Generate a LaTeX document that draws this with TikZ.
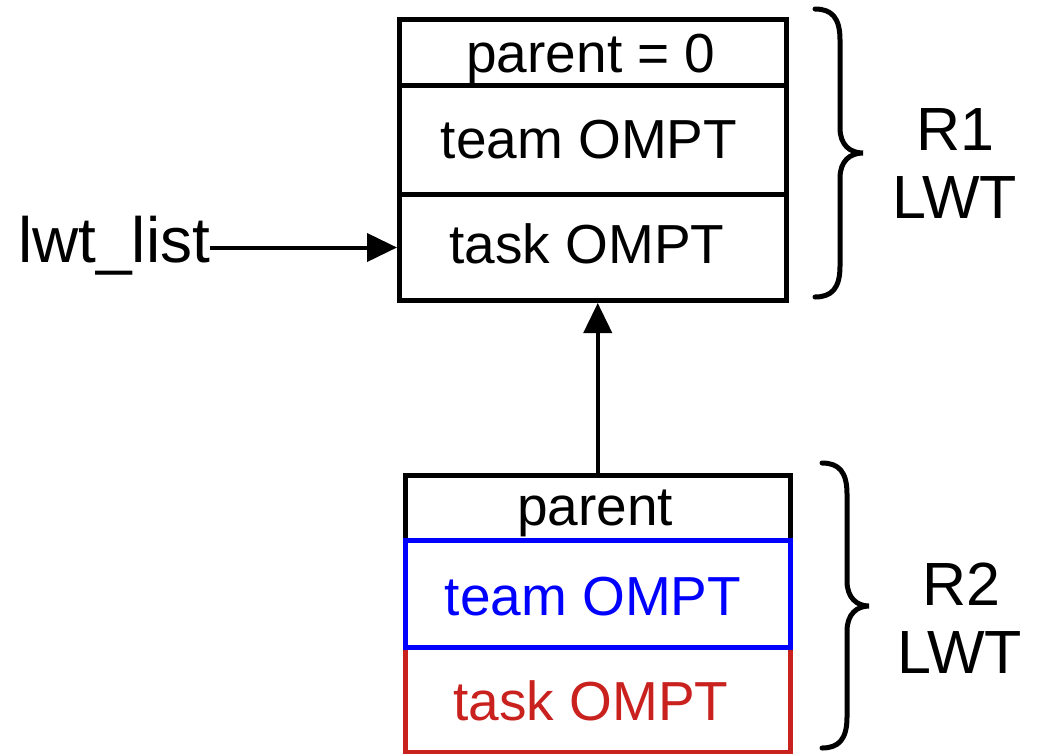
\documentclass[tikz,border=0pt]{standalone}
\usepackage{fontspec}
\setmainfont{Liberation Sans}
\usetikzlibrary{arrows.meta}
\definecolor{tred}{RGB}{201,33,30}
\definecolor{tblue}{RGB}{0,0,255}
\tikzset{
  cell/.style={draw, line width=5pt, rectangle, inner sep=0pt, anchor=north west},
  lbl/.style={anchor=base, inner sep=0pt, font=\fontsize{55}{63}\selectfont},
  big/.style={anchor=base, inner sep=0pt, font=\fontsize{61}{68}\selectfont},
  conn/.style={line width=4pt, -{Triangle[length=30pt,width=28pt]}},
  brace/.style={line width=5pt, line cap=round}
}
\begin{document}
\begin{tikzpicture}[x=1pt,y=-1pt]
\useasboundingbox (0,0) rectangle (1040,753);
% top LWT
\node[cell, minimum width=387pt, minimum height=66pt] (t1) at (397,17) {};
\node[cell, minimum width=387pt, minimum height=109pt] (t2) at (397,83) {};
\node[cell, minimum width=387pt, minimum height=106pt] (t3) at (397,192) {};
\node[lbl] (t1l) at (591,72) {parent = 0};
\node[lbl] (t2l) at (589,158) {team OMPT};
\node[lbl] (t3l) at (587,263) {task OMPT};
% bottom LWT
\node[cell, draw=tred, line width=4.5pt, minimum width=385pt, minimum height=105pt] (b3) at (403,645) {};
\node[cell, line width=4.5pt, minimum width=385pt, minimum height=65pt] (b1) at (403,473) {};
\node[cell, draw=tblue, line width=4.5pt, minimum width=385pt, minimum height=107pt] (b2) at (403,538) {};
\node[lbl] (b1l) at (595,525) {parent};
\node[lbl, text=tblue] (b2l) at (593,615) {team OMPT};
\node[lbl, text=tred] (b3l) at (591,720) {task OMPT};
% lwt_list
\node[big, anchor=base west, font=\fontsize{64}{70}\selectfont] (lst) at (18,262) {lwt\_list};
\draw[conn] (lst.east |- t3.west) -- (t3.west);
\draw[conn] (b1.north) -- (b1.north |- t3.south);
% braces
\draw[brace] (815,9) .. controls (832,9) and (840,18) .. (840,40) -- (840,128)
  .. controls (840,145) and (850,153) .. (863,153)
  .. controls (850,153) and (840,161) .. (840,178) -- (840,266)
  .. controls (840,288) and (832,297) .. (815,297);
\draw[brace] (822,463) .. controls (839,463) and (847,472) .. (847,494) -- (847,581)
  .. controls (847,598) and (857,606) .. (869,606)
  .. controls (857,606) and (847,614) .. (847,631) -- (847,717)
  .. controls (847,739) and (839,748) .. (822,748);
\node[big] (r1a) at (955,150) {R1};
\node[big] (r1b) at (955,218) {LWT};
\node[big] (r2a) at (961,605) {R2};
\node[big] (r2b) at (960,673) {LWT};
\end{tikzpicture}
\end{document}
